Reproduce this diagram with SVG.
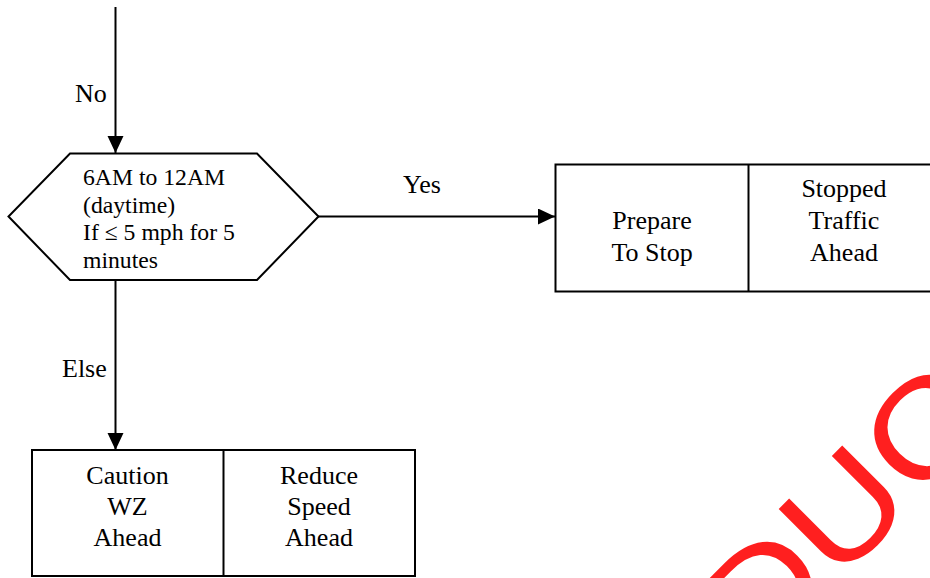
<svg xmlns="http://www.w3.org/2000/svg" width="930" height="578" viewBox="0 0 930 578">
<style>
.shape{fill:#fff;stroke:#000;stroke-width:2}
.line{fill:none;stroke:#000;stroke-width:2}
.t{font-family:"Liberation Serif","Times New Roman",serif;fill:#000}
.big{font-size:26px}
.small{font-size:23.7px}
.mid{text-anchor:middle}
.wm{font-family:"Liberation Sans",Arial,sans-serif;font-size:137px;fill:#ff1f1f}
</style>
<defs>
<marker id="arr" markerUnits="userSpaceOnUse" markerWidth="18" markerHeight="18" refX="17" refY="8" orient="auto">
<path d="M0,0 L17,8 L0,16 z" fill="#000"/>
</marker>
</defs>
<g id="connectors">
<line class="line" x1="115.5" y1="7" x2="115.5" y2="153" marker-end="url(#arr)"/>
<line class="line" x1="318" y1="216.5" x2="555" y2="216.5" marker-end="url(#arr)"/>
<line class="line" x1="115.5" y1="280" x2="115.5" y2="450" marker-end="url(#arr)"/>
<text class="t big" x="75" y="102">No</text>
<text class="t big" x="403" y="193">Yes</text>
<text class="t big" x="62" y="377">Else</text>
</g>
<g id="decision">
<polygon class="shape" points="70,153.5 257,153.5 318.5,216.5 257,280 70,280 8.5,216.5"/>
<text class="t small" x="83" y="185">6AM to 12AM</text>
<text class="t small" x="83" y="212.5">(daytime)</text>
<text class="t small" x="83" y="240">If ≤ 5 mph for 5</text>
<text class="t small" x="83" y="267.5">minutes</text>
</g>
<g id="box-yes">
<rect class="shape" x="555.5" y="164.5" width="386" height="127"/>
<line class="line" x1="748.5" y1="164.5" x2="748.5" y2="291.5"/>
<text class="t big mid" x="652" y="229">Prepare</text>
<text class="t big mid" x="652" y="261">To Stop</text>
<text class="t big mid" x="844" y="197">Stopped</text>
<text class="t big mid" x="844" y="229">Traffic</text>
<text class="t big mid" x="844" y="261">Ahead</text>
</g>
<g id="box-else">
<rect class="shape" x="32" y="450" width="383" height="126"/>
<line class="line" x1="223.5" y1="450" x2="223.5" y2="576"/>
<text class="t big mid" x="127.5" y="484">Caution</text>
<text class="t big mid" x="127.5" y="515">WZ</text>
<text class="t big mid" x="127.5" y="546">Ahead</text>
<text class="t big mid" x="319" y="484">Reduce</text>
<text class="t big mid" x="319" y="515">Speed</text>
<text class="t big mid" x="319" y="546">Ahead</text>
</g>
<g id="watermark">
<text class="wm" transform="translate(836.7,584.3) rotate(-45) scale(1.153,1)" x="-395.8" y="0">PRODUCTION</text>
</g>
</svg>
